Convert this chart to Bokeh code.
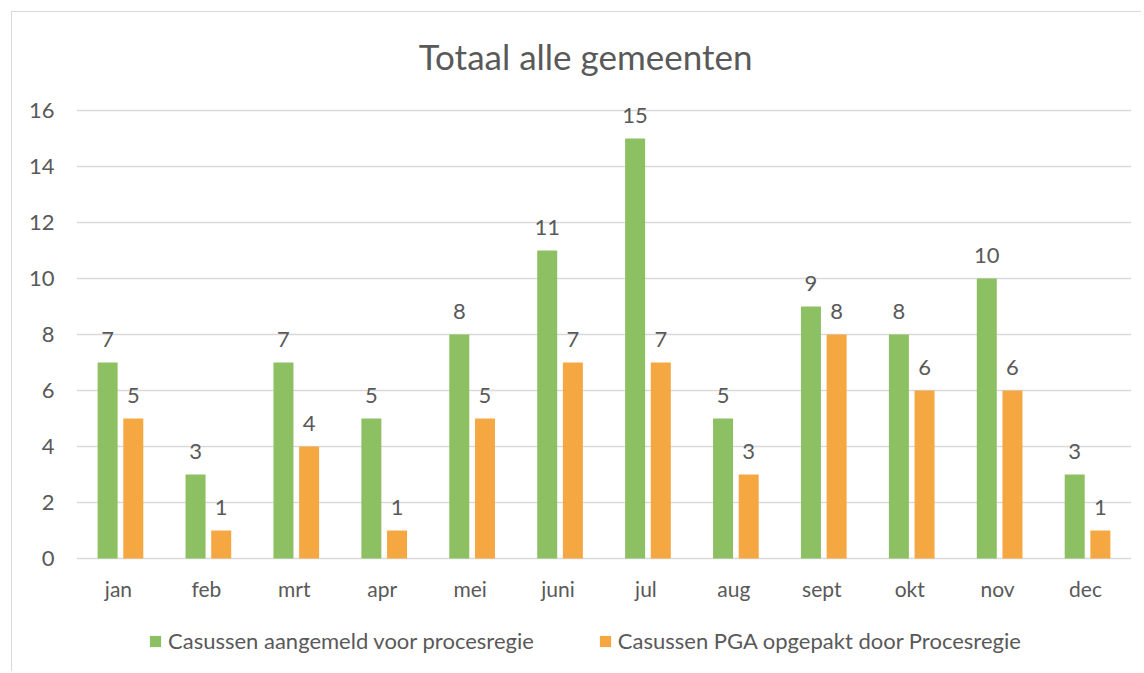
from bokeh.plotting import figure
from bokeh.models import ColumnDataSource, Legend, LegendItem, Label, FactorRange
from bokeh.transform import dodge
from bokeh.core.properties import value
from bokeh.embed import file_html
from bokeh.resources import INLINE

months = ["jan", "feb", "mrt", "apr", "mei", "juni", "jul", "aug", "sept", "okt", "nov", "dec"]
aangemeld = [7, 3, 7, 5, 8, 11, 15, 5, 9, 8, 10, 3]
opgepakt = [5, 1, 4, 1, 5, 7, 7, 3, 8, 6, 6, 1]
y_ticks = [0, 2, 4, 6, 8, 10, 12, 14, 16]
series_names = ["Casussen aangemeld voor procesregie", "Casussen PGA opgepakt door Procesregie"]
title_text = "Totaal alle gemeenten"

GREEN = "#8DC063"
ORANGE = "#F5A742"
TEXT = "#595959"
GRID = "#D9D9D9"
FONT = "Lato"

src = ColumnDataSource(dict(month=months, a=aangemeld, o=opgepakt,
                            at=[str(v) for v in aangemeld], ot=[str(v) for v in opgepakt],
                            zero=[0] * len(months)))

# frame spans the full height; 28 px per unit
p = figure(x_range=FactorRange(*months), y_range=(-4.071, 19.5), width=1130, height=660,
           output_backend="svg", toolbar_location=None,
           min_border_left=64, min_border_right=11, min_border_top=0, min_border_bottom=0,
           styles={"margin-left": "11px", "margin-top": "11px",
                   "border-left": "1px solid #D9D9D9", "border-top": "1px solid #D9D9D9"})
p.outline_line_color = None
p.background_fill_color = "white"
p.border_fill_color = "white"

W = 0.2275
OFF = 0.146
r1 = p.vbar(x=dodge("month", -OFF, range=p.x_range), top="a", width=W, source=src,
            fill_color=GREEN, line_color=None)
r2 = p.vbar(x=dodge("month", OFF, range=p.x_range), top="o", width=W, source=src,
            fill_color=ORANGE, line_color=None)

p.text(x=dodge("month", -OFF, range=p.x_range), y="a", text="at", source=src,
       text_align="center", text_baseline="bottom", y_offset=-16,
       text_font=value(FONT), text_font_size="22px", text_color=TEXT)
p.text(x=dodge("month", OFF, range=p.x_range), y="o", text="ot", source=src,
       text_align="center", text_baseline="bottom", y_offset=-16,
       text_font=value(FONT), text_font_size="22px", text_color=TEXT)

# category labels under the baseline
p.text(x="month", y="zero", text="month", source=src, text_align="center",
       text_baseline="middle", y_offset=30, x_offset=-2,
       text_font=value(FONT), text_font_size="21px", text_color=TEXT)

p.add_layout(Label(x=5.79, y=17.96, text=title_text, text_align="center",
                   text_baseline="middle", text_font=FONT, text_font_size="35px",
                   text_color=TEXT))

p.xaxis.visible = False
p.xgrid.grid_line_color = None
p.ygrid.grid_line_color = GRID
p.ygrid.grid_line_width = 1.3
p.yaxis.ticker = y_ticks
p.yaxis.axis_line_color = None
p.yaxis.major_tick_line_color = None
p.yaxis.minor_tick_line_color = None
p.yaxis.major_label_standoff = 16
p.yaxis.major_label_text_font = FONT
p.yaxis.major_label_text_font_size = "22px"
p.yaxis.major_label_text_color = TEXT

legend = Legend(items=[LegendItem(label=series_names[0], renderers=[r1]),
                       LegendItem(label=series_names[1], renderers=[r2])],
                orientation="horizontal", location=(72, 18),
                label_text_font=FONT, label_text_font_size="22px", label_text_color=TEXT,
                glyph_width=14, glyph_height=14, spacing=64, label_standoff=6,
                border_line_color=None, background_fill_alpha=0, margin=0, padding=0)
p.add_layout(legend, "center")

open("out.html", "w").write(file_html(p, INLINE))
